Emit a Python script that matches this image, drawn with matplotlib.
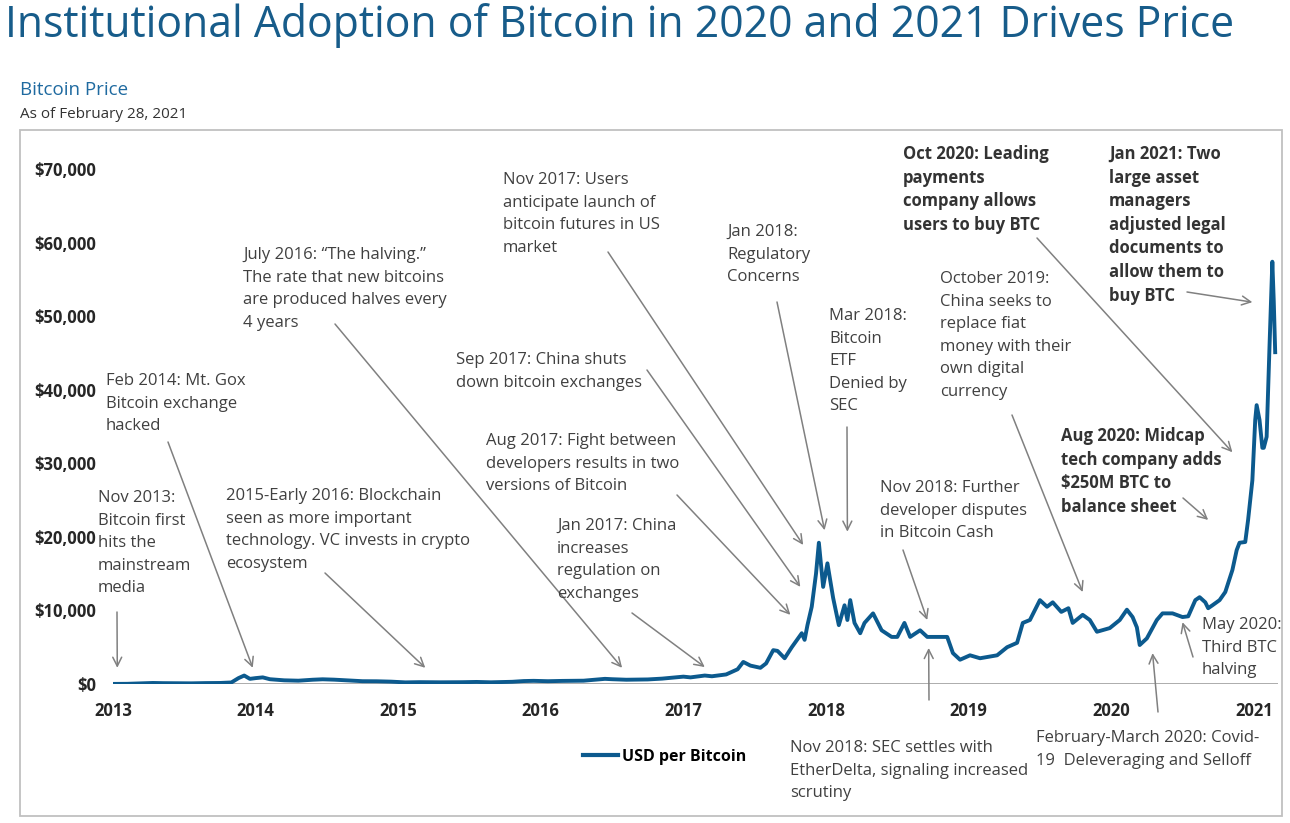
import matplotlib
matplotlib.use("Agg")
import matplotlib.pyplot as plt
from matplotlib.patches import Rectangle
from matplotlib.lines import Line2D

# data (decimal year, USD)
dates = [
    2013.00, 2013.10, 2013.20, 2013.28, 2013.35, 2013.45, 2013.55, 2013.65, 2013.75, 2013.83,
    2013.88, 2013.92, 2013.96, 2014.00, 2014.05, 2014.10, 2014.20, 2014.30, 2014.40, 2014.47,
    2014.55, 2014.65, 2014.75, 2014.85, 2014.95, 2015.05, 2015.15, 2015.30, 2015.45, 2015.55,
    2015.65, 2015.80, 2015.88, 2015.95, 2016.05, 2016.15, 2016.30, 2016.45, 2016.50, 2016.60,
    2016.75, 2016.85, 2016.95, 2017.00, 2017.05, 2017.15, 2017.20, 2017.30, 2017.38, 2017.42,
    2017.47, 2017.54, 2017.58, 2017.63, 2017.66, 2017.71, 2017.76, 2017.83, 2017.85, 2017.87,
    2017.90, 2017.93, 2017.95, 2017.98, 2018.01, 2018.05, 2018.09, 2018.13, 2018.15, 2018.17,
    2018.20, 2018.24, 2018.27, 2018.33, 2018.39, 2018.46, 2018.50, 2018.55, 2018.59, 2018.66,
    2018.71, 2018.78, 2018.85, 2018.89, 2018.94, 2019.01, 2019.08, 2019.20, 2019.27, 2019.34,
    2019.38, 2019.43, 2019.50, 2019.55, 2019.59, 2019.65, 2019.70, 2019.73, 2019.80, 2019.85,
    2019.90, 2019.99, 2020.06, 2020.11, 2020.15, 2020.18, 2020.20, 2020.25, 2020.32, 2020.36,
    2020.43, 2020.50, 2020.54, 2020.59, 2020.62, 2020.66, 2020.68, 2020.71, 2020.76, 2020.80,
    2020.85, 2020.88, 2020.90, 2020.94, 2020.96, 2020.99, 2021.01, 2021.02, 2021.04, 2021.06,
    2021.07, 2021.09, 2021.11, 2021.13, 2021.14, 2021.15,
]
prices = [
    13, 25, 90, 140, 115, 100, 90, 125, 140, 210,
    800, 1150, 700, 800, 900, 650, 500, 450, 580, 640,
    590, 480, 380, 370, 320, 220, 250, 230, 245, 280,
    230, 300, 400, 430, 380, 420, 450, 700, 650, 580,
    620, 730, 900, 1000, 900, 1150, 1050, 1300, 2000, 3000,
    2500, 2200, 2800, 4600, 4500, 3500, 5000, 6900, 6000, 8000,
    10500, 15000, 19200, 13200, 16400, 11700, 8000, 10700, 8700, 11400,
    8300, 6900, 8300, 9600, 7300, 6400, 6400, 8300, 6400, 7300,
    6400, 6400, 6400, 4200, 3300, 3900, 3500, 3900, 5000, 5600,
    8300, 8700, 11400, 10500, 11100, 9800, 10300, 8300, 9400, 8700,
    7100, 7600, 8700, 10100, 9100, 7700, 5300, 6200, 8700, 9600,
    9600, 9100, 9200, 11400, 11800, 11100, 10300, 10700, 11400, 12500,
    15500, 18200, 19200, 19300, 22300, 27700, 35900, 37900, 35900, 32100,
    32100, 33600, 45800, 57400, 52000, 45100,
]

year_ticks = list(range(2013, 2022))
price_ticks = list(range(0, 70001, 10000))

# annotations: text, text top-left (px), arrow start (px), arrow tip (year, price), bold
notes = [
    ("Nov 2013:\nBitcoin first\nhits the\nmainstream\nmedia", (98, 490), (117, 612), (2013.03, 2200), False),
    ("Feb 2014: Mt. Gox\nBitcoin exchange\nhacked", (106, 373), (168, 442), (2013.98, 2200), False),
    ("2015-Early 2016: Blockchain\nseen as more important\ntechnology. VC invests in crypto\necosystem",
     (226, 488), (325, 573), (2015.19, 2200), False),
    ("July 2016: \u201cThe halving.\u201d\nThe rate that new bitcoins\nare produced halves every\n4 years",
     (243, 247), (335, 324), (2016.57, 2200), False),
    ("Nov 2017: Users\nanticipate launch of\nbitcoin futures in US\nmarket", (503, 172), (608, 252), (2017.84, 18900), False),
    ("Sep 2017: China shuts\ndown bitcoin exchanges", (456, 352), (647, 370), (2017.82, 13200), False),
    ("Aug 2017: Fight between\ndevelopers results in two\nversions of Bitcoin", (486, 433), (677, 495), (2017.75, 9400), False),
    ("Jan 2017: China\nincreases\nregulation on\nexchanges", (557, 518), (632, 613), (2017.15, 2300), False),
    ("Jan 2018:\nRegulatory\nConcerns", (727, 224), (777, 302), (2017.99, 20900), False),
    ("Mar 2018:\nBitcoin\nETF\nDenied by\nSEC", (829, 308), (847, 427), (2018.15, 20700), False),
    ("Nov 2018: Further\ndeveloper disputes\nin Bitcoin Cash", (880, 480), (903, 550), (2018.71, 8700), False),
    ("Nov 2018: SEC settles with\nEtherDelta, signaling increased\nscrutiny", (790, 740), (929, 700), (2018.72, 4900), False),
    ("October 2019:\nChina seeks to\nreplace fiat\nmoney with their\nown digital\ncurrency", (940, 271), (1012, 415), (2019.80, 12500), False),
    ("Oct 2020: Leading\npayments\ncompany allows\nusers to buy BTC", (903, 145), (1037, 238), (2020.85, 31500), True),
    ("Jan 2021: Two\nlarge asset\nmanagers\nadjusted legal\ndocuments to\nallow them to\nbuy BTC", (1109, 145), (1187, 292), (2020.99, 51900), True),
    ("Aug 2020: Midcap\ntech company adds\n$250M BTC to\nbalance sheet", (1061, 427), (1183, 498), (2020.68, 22300), True),
    ("May 2020:\nThird BTC\nhalving", (1202, 617), (1193, 657), (2020.50, 8400), False),
    ("February-March 2020: Covid-\n19  Deleveraging and Selloff", (1036, 730), (1158, 712), (2020.29, 4200), False),
]

W, H = 1290, 823
plt.rcParams['font.family'] = ['Open Sans', 'DejaVu Sans']
blue = '#0c5a8e'
grey_txt = '#404040'

fig = plt.figure(figsize=(W / 100, H / 100), dpi=100)

# chart frame
fig.patches.append(Rectangle((20 / W, 1 - 816 / H), 1262 / W, 686 / H, transform=fig.transFigure,
                             fill=False, edgecolor='#c0c0c0', lw=1.3))

fig.text(5 / W, 1 - 25 / H, "Institutional Adoption of Bitcoin in 2020 and 2021 Drives Price",
         fontsize=30.8, color='#175c8a', va='center', ha='left')
fig.text(20 / W, 1 - 90 / H, "Bitcoin Price", fontsize=13.5, color='#1f6aa0', va='center')
fig.text(20 / W, 1 - 114 / H, "As of February 28, 2021", fontsize=11, color='#333333', va='center')

ax = fig.add_axes([113 / W, 1 - 684 / H, (1278 - 113) / W, (684 - 169) / H])
ax.plot(dates, prices, color=blue, lw=2.8, solid_joinstyle='round', zorder=3)
ax.axhline(0, color='#a6a6a6', lw=1.3, zorder=2)
ax.set_xlim(2013, 2013 + (1278 - 113) / 142.6)
ax.set_ylim(0, 70000)
for s in ax.spines.values():
    s.set_visible(False)
ax.set_xticks(year_ticks)
ax.set_xticklabels([str(y) for y in year_ticks], fontweight='bold', fontsize=12, color='#262626')
ax.set_yticks(price_ticks)
ax.set_yticklabels(['${:,}'.format(p) for p in price_ticks], fontweight='bold', fontsize=12, color='#262626')
ax.tick_params(axis='x', length=0, pad=13)
ax.tick_params(axis='y', length=0, pad=12)
ax.patch.set_visible(False)

for text, (tx, ty), (sx, sy), tip, bold in notes:
    fig.text(tx / W, 1 - ty / H, text, fontsize=12, color='#333333' if bold else grey_txt,
             fontweight='bold' if bold else 'normal', va='top', ha='left',
             linespacing=1.4 if bold else 1.55)
    ax.annotate('', xy=tip, xycoords='data', xytext=(sx, H - sy), textcoords='figure pixels',
                arrowprops=dict(arrowstyle='->', color='#808080', lw=1.1, shrinkA=0, shrinkB=0,
                                mutation_scale=16),
                annotation_clip=False)

handle = Line2D([], [], color=blue, lw=3)
fig.legend([handle], ['USD per Bitcoin'], loc='center left', bbox_to_anchor=(583 / W, 1 - 757 / H),
           frameon=False, handlelength=2.2, handletextpad=0.25, borderpad=0, borderaxespad=0,
           prop={'weight': 'bold', 'size': 11.5})

fig.savefig('out.png', dpi=100)
